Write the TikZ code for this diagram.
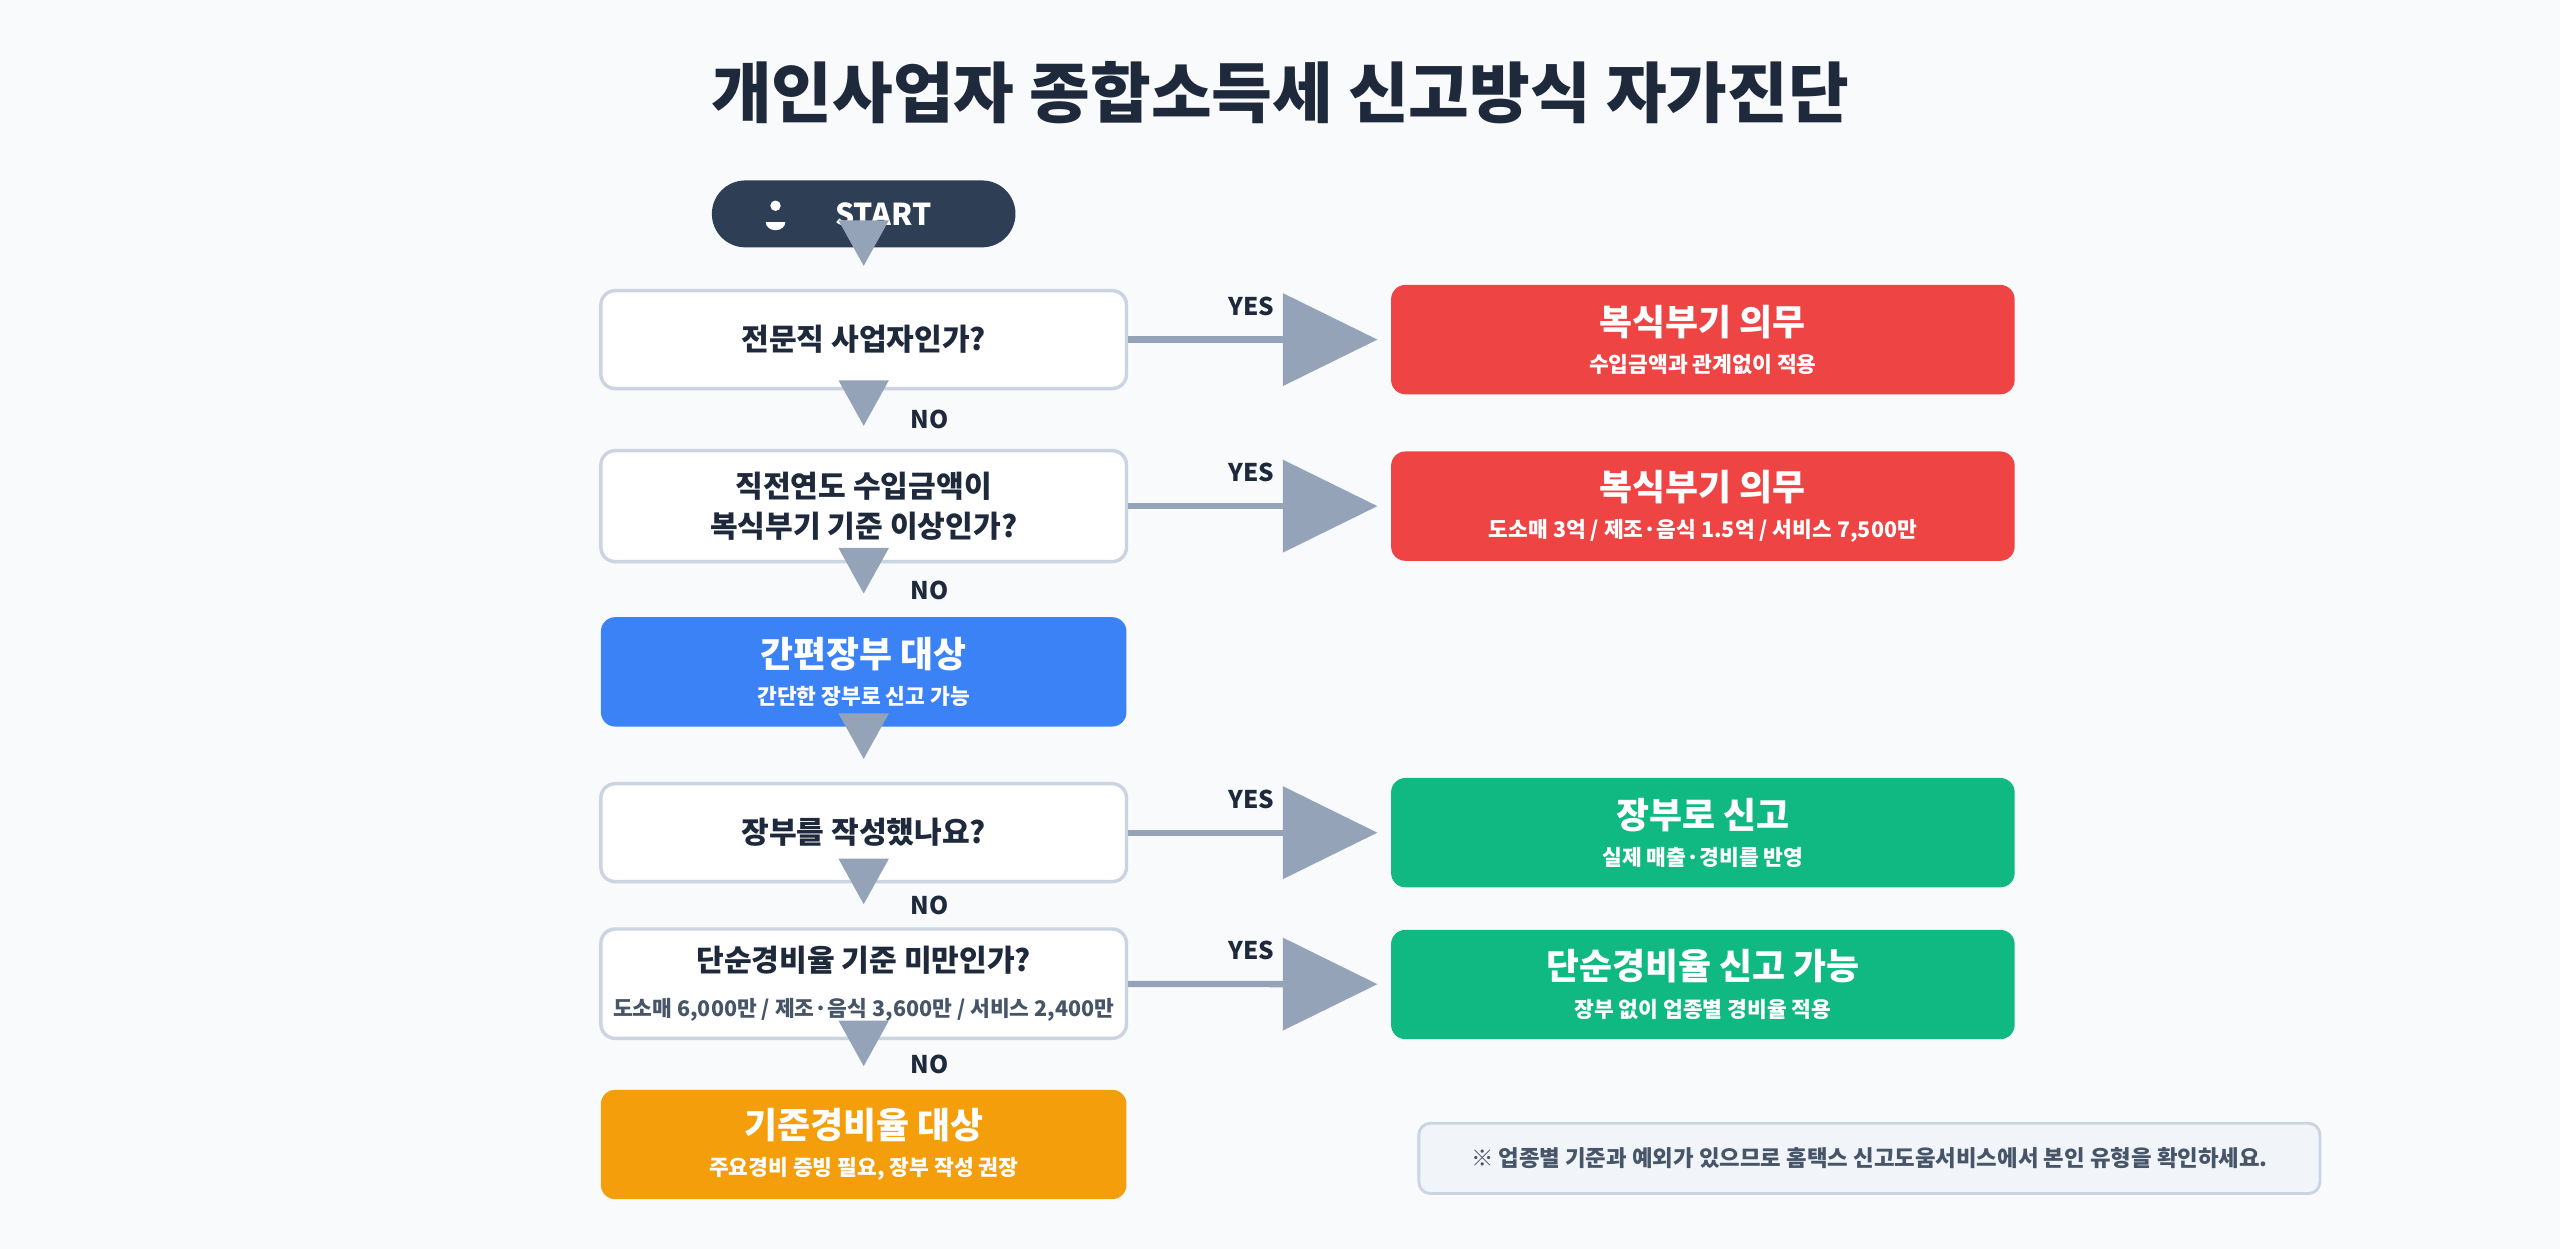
\documentclass[tikz,border=0pt]{standalone}
\usepackage{fontspec}
\setmainfont{Noto Sans CJK KR}
\usetikzlibrary{arrows.meta}
\definecolor{bgcol}{HTML}{F8FAFC}
\definecolor{navy}{HTML}{2E3E55}
\definecolor{qline}{HTML}{CBD5E1}
\definecolor{notefill}{HTML}{F1F5F9}
\definecolor{arrcol}{HTML}{94A3B8}
\definecolor{redb}{HTML}{EF4444}
\definecolor{blueb}{HTML}{3B82F6}
\definecolor{greenb}{HTML}{10B981}
\definecolor{orangeb}{HTML}{F59E0B}
\definecolor{txt}{HTML}{1E293B}
\definecolor{subtxt}{HTML}{475569}
\tikzset{
  question/.style={draw=qline,line width=1.2pt,fill=white,rounded corners=5pt,
    minimum width=6.44cm,align=center,text=txt,font=\fontsize{10.5}{14}\selectfont\bfseries},
  result/.style={fill=#1,rounded corners=5pt,minimum width=7.64cm,minimum height=1.34cm,
    align=center,text=white},
  downarrow/.style={arrcol,line width=2pt,-{Triangle[length=0.56cm,width=0.6cm]},shorten >=8pt},
  sidearrow/.style={arrcol,line width=2.2pt,-{Triangle[length=1.16cm,width=1.12cm]},shorten >=0.16cm},
  answer/.style={text=txt,font=\fontsize{8.5}{10}\selectfont\bfseries}
}
\newcommand{\restext}[2]{{\fontsize{12.5}{15}\selectfont\bfseries #1}\\[1pt]{\fontsize{7.5}{9}\selectfont\bfseries #2}}
\begin{document}
\begin{tikzpicture}[x=0.02cm,y=-0.02cm]
        % Draw background
        \fill[bgcol] (0,0) rectangle (1568,765);
        % Draw title
        \node[text=txt,font=\fontsize{23}{28}\selectfont\bfseries] (title) at (784,57) {개인사업자 종합소득세 신고방식 자가진단};
        % Draw start
        \node[fill=navy,rounded corners=0.41cm,minimum width=3.72cm,minimum height=0.82cm] (start) at (529,131) {};
        \node[text=white,font=\fontsize{10.5}{12}\selectfont\bfseries] (starttext) at (541,131) {START};
        \fill[white] (475,126) circle (3.2);
        \fill[white] (469,136) arc (180:0:6 and 5) -- cycle;
        % Draw questions
        \node[question,minimum height=1.2cm] (q1) at (529,208) {전문직 사업자인가?};
        \node[question,minimum height=1.36cm] (q2) at (529,310) {직전연도 수입금액이\\복식부기 기준 이상인가?};
        \node[result=blueb] (simple) at (529,411.5) [minimum width=6.44cm] {\restext{간편장부 대상}{간단한 장부로 신고 가능}};
        \node[question,minimum height=1.2cm] (q3) at (529,510) {장부를 작성했나요?};
        \node[question,minimum height=1.34cm] (q4) at (529,602.5) {단순경비율 기준 미만인가?\\[2pt]{\fontsize{7.5}{9}\selectfont\color{subtxt}도소매 6,000만 / 제조·음식 3,600만 / 서비스 2,400만}};
        \node[result=orangeb] (basic) at (529,701) [minimum width=6.44cm] {\restext{기준경비율 대상}{주요경비 증빙 필요, 장부 작성 권장}};
        % Draw results
        \node[result=redb] (r1) at (1043,208) {\restext{복식부기 의무}{수입금액과 관계없이 적용}};
        \node[result=redb] (r2) at (1043,310) {\restext{복식부기 의무}{도소매 3억 / 제조·음식 1.5억 / 서비스 7,500만}};
        \node[result=greenb] (r3) at (1043,510) {\restext{장부로 신고}{실제 매출·경비를 반영}};
        \node[result=greenb] (r4) at (1043,603) {\restext{단순경비율 신고 가능}{장부 없이 업종별 경비율 적용}};
        % Draw arrows
        \draw[downarrow] (start) -- (q1);
        \draw[downarrow] (q1) -- node[answer,right=12pt] {NO} (q2);
        \draw[downarrow] (q2) -- node[answer,right=12pt] {NO} (simple);
        \draw[downarrow] (simple) -- (q3);
        \draw[downarrow] (q3) -- node[answer,right=12pt] {NO} (q4);
        \draw[downarrow] (q4) -- node[answer,right=12pt] {NO} (basic);
        \foreach \q/\r in {q1/r1,q2/r2,q3/r3,q4/r4}
          \draw[sidearrow] (\q) -- node[answer,pos=0.47,above=4pt] {YES} (\r);
        % Draw note
        \node[draw=qline,line width=1pt,fill=notefill,rounded corners=4pt,
          minimum width=11.04cm,minimum height=0.86cm,text=subtxt,
          font=\fontsize{7.8}{9}\selectfont\bfseries] (note) at (1145,709.5)
          {※ 업종별 기준과 예외가 있으므로 홈택스 신고도움서비스에서 본인 유형을 확인하세요.};
\end{tikzpicture}
\end{document}
